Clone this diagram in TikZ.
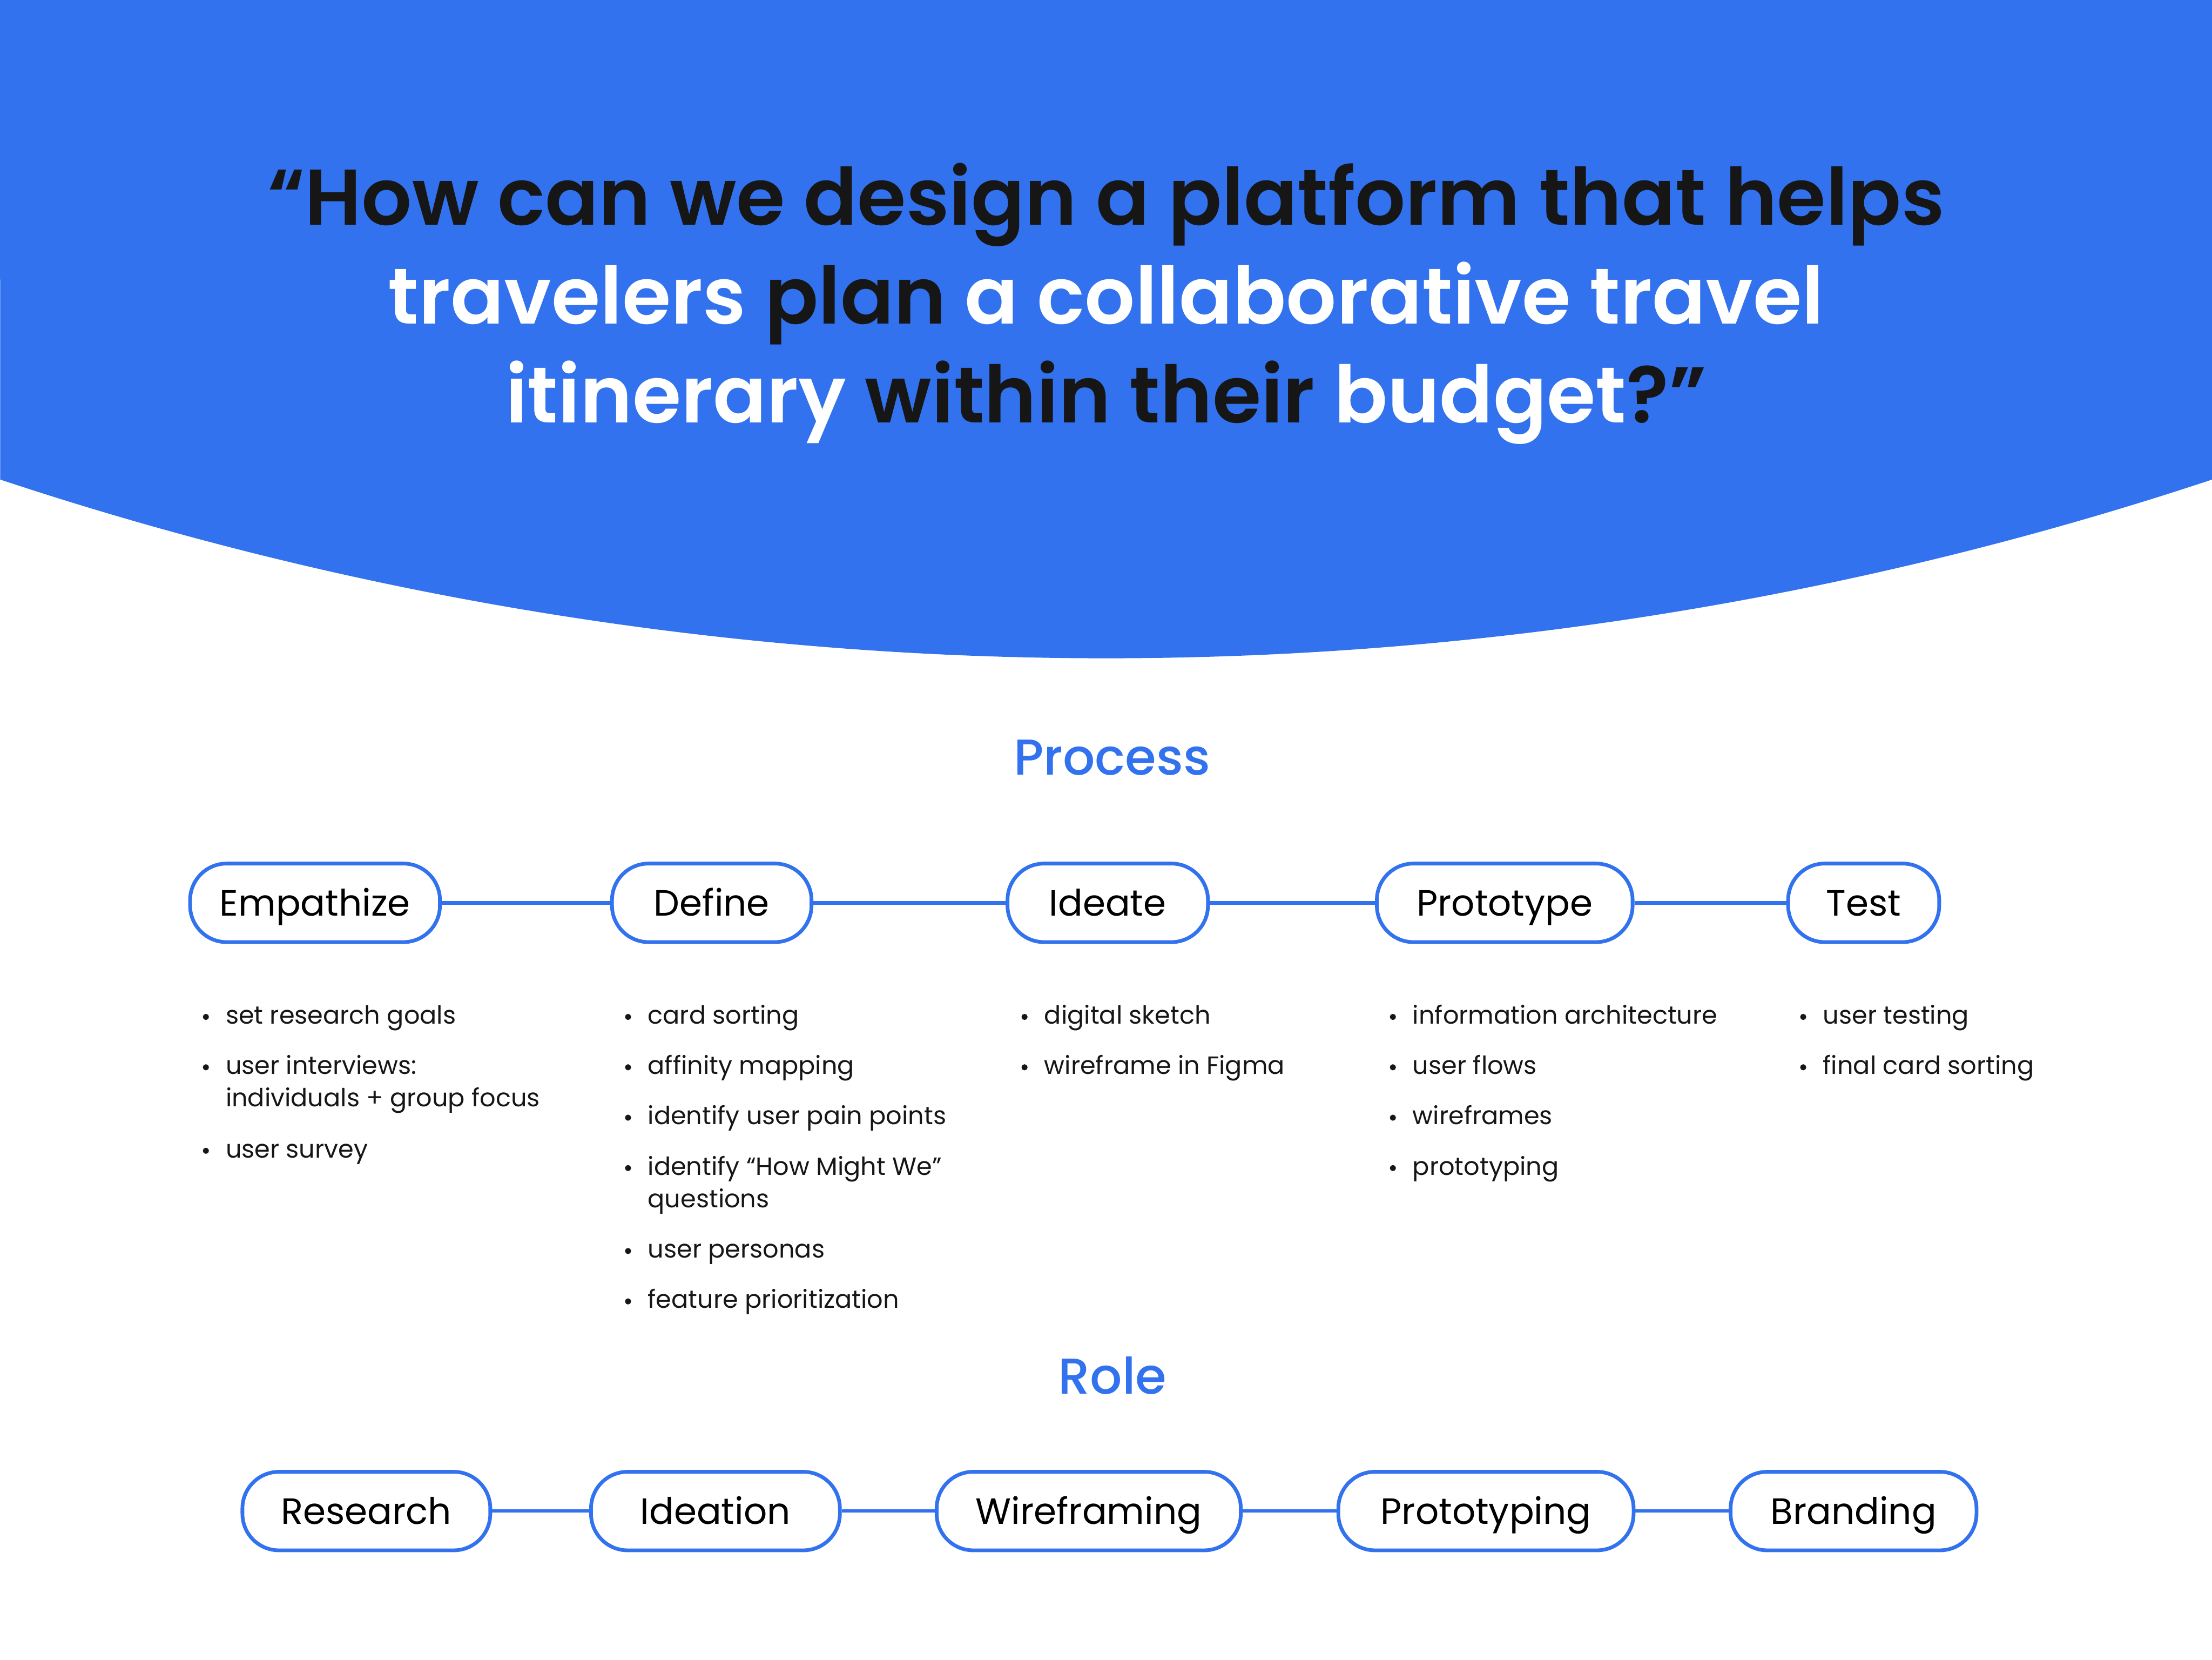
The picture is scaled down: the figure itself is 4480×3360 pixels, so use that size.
\documentclass[tikz,border=0pt]{standalone}
\usepackage{fontspec}
\setmainfont{Poppins}
\newfontfamily\titlefont{Poppins SemiBold}
\newfontfamily\medfont{Poppins Medium}
\definecolor{brandblue}{HTML}{3272EE}
\definecolor{ink}{HTML}{161616}
\tikzset{
  titletext/.style={anchor=base, inner sep=0pt, text=ink, font=\titlefont\fontsize{160}{200}\selectfont},
  heading/.style={anchor=base, inner sep=0pt, text=brandblue, font=\medfont\fontsize{102}{120}\selectfont},
  pill/.style={draw=brandblue, line width=7.5pt, rounded corners=74pt, fill=white,
    minimum height=159pt, inner sep=0pt, text height=52pt, text depth=0pt,
    text=black, font=\fontsize{74}{90}\selectfont},
  conn/.style={draw=brandblue, line width=7pt},
  itemtext/.style={anchor=base west, inner sep=0pt, text=ink, font=\fontsize{50.5}{66}\selectfont},
  dotmark/.style={fill=ink, draw=none}
}
\newcommand\bitem[4]{%
  \fill[dotmark] (#2-40,#3-14) circle (6.2pt);
  \node[itemtext] (#1) at (#2,#3) {#4};}
\newcommand\bcont[4]{\node[itemtext] (#1) at (#2,#3) {#4};}
\begin{document}
\begin{tikzpicture}[x=1pt,y=-1pt]
\useasboundingbox (0,0) rectangle (4480,3360);
\fill[white] (0,0) rectangle (4480,3360);
% blue header with curved bottom
\fill[brandblue] (0,0) -- (4480,0) -- (4480,971)
  arc[start angle=71.64, end angle=108.36, radius=7111] -- cycle;
% title
\node[titletext] (t1) at (2240,456) {“How can we design a platform that helps};
\node[titletext] (t2) at (2240,656) {\textcolor{white}{travelers} plan \textcolor{white}{a collaborative travel}};
\node[titletext] (t3) at (2240,856) {\textcolor{white}{itinerary} within their \textcolor{white}{budget}?”};
% Process
\node[heading] (proc) at (2252,1569) {Process};
\node[pill, minimum width=506pt] (emp) at (638,1828) {Empathize};
\node[pill, minimum width=404pt] (def) at (1441.5,1828) {Define};
\node[pill, minimum width=406pt] (ide) at (2243.5,1828) {Ideate};
\node[pill, minimum width=518pt] (pro) at (3047.5,1828) {Prototype};
\node[pill, minimum width=306pt] (tst) at (3774.5,1828) {Test};
\draw[conn] (emp) -- (def);
\draw[conn] (def) -- (ide);
\draw[conn] (ide) -- (pro);
\draw[conn] (pro) -- (tst);
% bullet lists
\bitem{e1}{457}{2073}{set research goals}
\bitem{e2}{457}{2175}{user interviews:}
\bcont{e2b}{457}{2241}{individuals + group focus}
\bitem{e3}{457}{2344}{user survey}
\bitem{d1}{1312}{2073}{card sorting}
\bitem{d2}{1312}{2175}{affinity mapping}
\bitem{d3}{1312}{2277}{identify user pain points}
\bitem{d4}{1312}{2379}{identify “How Might We”}
\bcont{d4b}{1312}{2445}{questions}
\bitem{d5}{1312}{2547}{user personas}
\bitem{d6}{1312}{2649}{feature prioritization}
\bitem{i1}{2115}{2073}{digital sketch}
\bitem{i2}{2115}{2175}{wireframe in Figma}
\bitem{p1}{2861}{2073}{information architecture}
\bitem{p2}{2861}{2175}{user flows}
\bitem{p3}{2861}{2277}{wireframes}
\bitem{p4}{2861}{2379}{prototyping}
\bitem{s1}{3692}{2073}{user testing}
\bitem{s2}{3692}{2175}{final card sorting}
% Role
\node[heading] (role) at (2253,2822) {Role};
\node[pill, minimum width=502pt] (res) at (742,3059.5) {Research};
\node[pill, minimum width=504pt] (idn) at (1449,3059.5) {Ideation};
\node[pill, minimum width=616pt] (wir) at (2205,3059.5) {Wireframing};
\node[pill, minimum width=598pt] (prt) at (3009.5,3059.5) {Prototyping};
\node[pill, minimum width=498pt] (brn) at (3754,3059.5) {Branding};
\draw[conn] (res) -- (idn);
\draw[conn] (idn) -- (wir);
\draw[conn] (wir) -- (prt);
\draw[conn] (prt) -- (brn);
\end{tikzpicture}
\end{document}
